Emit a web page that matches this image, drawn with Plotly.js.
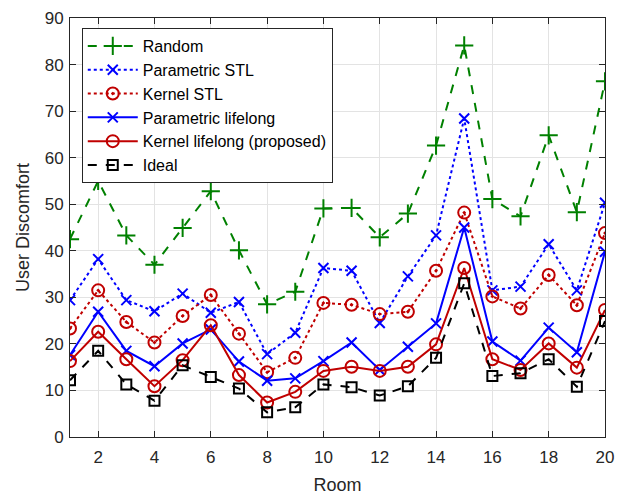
<!DOCTYPE html>
<html><head><meta charset="utf-8">
<script src="https://cdn.plot.ly/plotly-3.0.1.min.js"></script>
<style>body{margin:0;background:#fff}#chart{width:625px;height:495px}</style>
</head><body><div id="chart"></div>
<script>
const rooms = [1,2,3,4,5,6,7,8,9,10,11,12,13,14,15,16,17,18,19,20];
const randomVals = [42.5,55,43.3,37,44.9,52.8,40.1,28.5,31.2,49.1,49.2,42.9,48,62.6,84.1,51.1,47.4,64.8,48.3,76.4];
const paramSTL = [29.4,38.2,29.4,27,30.8,26.7,29,17.8,22.4,36.3,35.7,24.5,34.5,43.3,68.4,31.5,32.3,41.4,31.5,50.3];
const kernelSTL = [23.3,31.5,24.7,20.3,26,30.5,22.2,13.9,17,28.8,28.4,26.4,26.9,35.7,48.2,30.2,27.6,34.8,28.3,43.8];
const paramLifelong = [17.6,26.9,18.5,15.2,20.1,23.1,16.2,12.1,12.6,16.3,20.3,14.4,19.4,24.4,45,20.5,16.4,23.5,18.2,39.8];
const kernelLifelong = [16.3,22.6,16.7,10.9,16.5,24,13.3,7.4,9.7,14.2,15.1,14.2,15.1,19.9,36.3,16.7,14.4,20.1,14.9,27.3];
const ideal = [12.2,18.5,11.3,7.8,15.4,12.9,10.4,5.3,6.4,11.3,10.7,8.9,10.9,17,33,13.1,13.7,16.7,10.8,24.9];
const seriesNames = ['Random','Parametric STL','Kernel STL','Parametric lifelong','Kernel lifelong (proposed)','Ideal'];
const xTicks = [2,4,6,8,10,12,14,16,18,20];
const yTicks = [0,10,20,30,40,50,60,70,80,90];

const green='#008000', blue='#0000ff', red='#c00000', black='#000000';
function tr(y,name,color,dash,symbol,msize){
  return {x:rooms,y:y,name:name,type:'scatter',mode:'lines+markers',
    line:{color:color,width:2,dash:dash},
    marker:{symbol:symbol,size:msize,color:color,line:{color:color,width:2}}};
}
const data=[
  tr(randomVals,seriesNames[0],green,'dash','cross-thin-open',13),
  tr(paramSTL,seriesNames[1],blue,'dot','x-thin-open',10),
  tr(kernelSTL,seriesNames[2],red,'dot','circle-open-dot',12),
  tr(paramLifelong,seriesNames[3],blue,'solid','x-thin-open',10),
  tr(kernelLifelong,seriesNames[4],red,'solid','circle-open',12),
  tr(ideal,seriesNames[5],black,'dash','square-open',10)
];
const axisCommon={showline:true,linecolor:'#262626',linewidth:1,mirror:'allticks',ticks:'inside',ticklen:6,tickcolor:'#262626',
  showgrid:true,gridcolor:'#e3e3e3',gridwidth:1,zeroline:false,tickfont:{family:'Liberation Sans, Arial',size:17,color:'#262626'}};
const layout={
  width:625,height:495,margin:{l:70,r:20,t:18,b:58},
  paper_bgcolor:'#fff',plot_bgcolor:'#fff',showlegend:true,
  font:{family:'Liberation Sans, Arial',color:'#262626'},
  xaxis:Object.assign({},axisCommon,{range:[1,20],tickvals:xTicks,ticktext:xTicks.map(String),ticklabelstandoff:5,
    title:{text:'Room',font:{size:18,color:'#262626'},standoff:12}}),
  yaxis:Object.assign({},axisCommon,{range:[0,90],tickvals:yTicks,ticktext:yTicks.map(String),ticklabelstandoff:2,
    title:{text:'User Discomfort',font:{size:18,color:'#262626'},standoff:10}}),
  legend:{x:0.022,y:0.976,xanchor:'left',yanchor:'top',bgcolor:'#fff',bordercolor:'#262626',borderwidth:1,
    font:{size:16,color:'#000'},itemwidth:50,tracegroupgap:0}
};
Plotly.newPlot('chart',data,layout,{displayModeBar:false});
</script></body></html>
